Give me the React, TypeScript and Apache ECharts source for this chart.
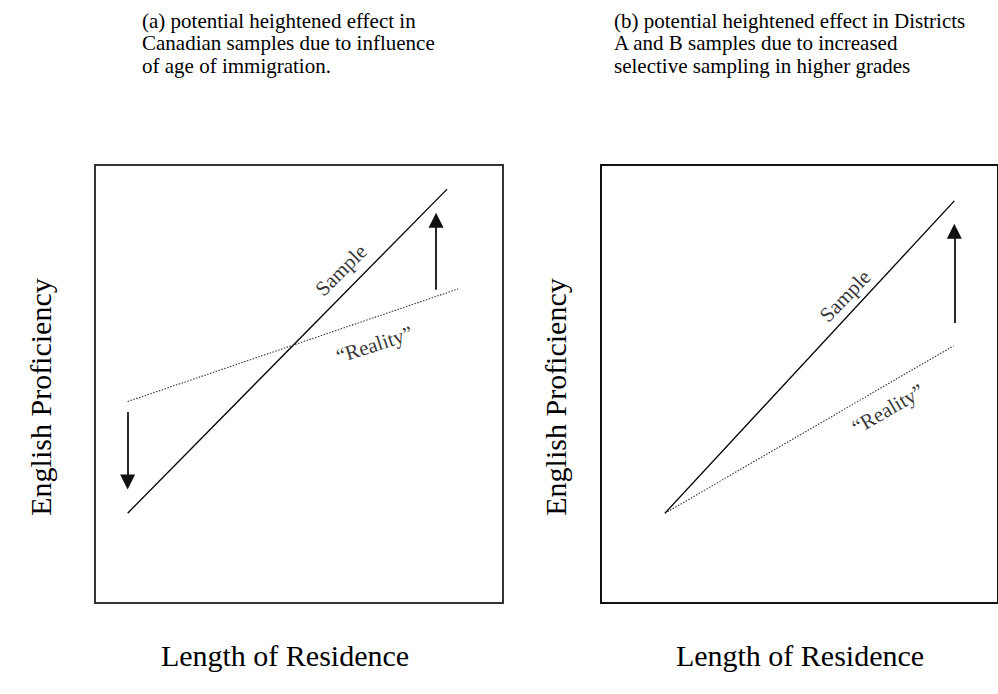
import React, { useEffect, useRef } from "react";
import * as echarts from "echarts";

// Panel titles (one entry per line)
const titleA = ["(a) potential heightened effect in", "Canadian samples due to influence", "of age of immigration."];
const titleB = ["(b) potential heightened effect in Districts", "A and B samples due to increased", "selective sampling in higher grades"];
const xTitle = "Length of Residence";
const yTitle = "English Proficiency";

// Panel (a) data (axis units 0-100)
const aSample = [[8.0, 20.5], [86.3, 94.5]];
const aReality = [[8.0, 46.0], [89.0, 71.7]];
const aArrowDown = [[8.0, 43.6], [8.0, 27.6]];
const aArrowUp = [[83.6, 71.5], [83.6, 87.4]];
const aLabels = [
  { text: "Sample", pos: [60.3, 76.0], rotate: 45 },
  { text: "\u201CReality\u201D", pos: [68.5, 59.0], rotate: 18 },
];

// Panel (b) data
const bSample = [[16.1, 20.5], [89.0, 91.8]];
const bReality = [[16.1, 20.5], [88.8, 58.7]];
const bArrowUp = [[89.0, 63.9], [89.0, 84.9]];
const bLabels = [
  { text: "Sample", pos: [61.5, 70.1], rotate: 46 },
  { text: "\u201CReality\u201D", pos: [72.3, 44.3], rotate: 30 },
];

const FONT = "Liberation Serif";

export default function App() {
  const ref = useRef<HTMLDivElement>(null);
  useEffect(() => {
    document.body.style.margin = "0";
    const chart = echarts.init(ref.current!, undefined, { renderer: "svg" });
    const gridTop = 165;
    const gridH = 438;
    const mkAxis = (i: number) => ({
      type: "value", gridIndex: i, min: 0, max: 100, show: false,
    });
    const line = (i: number, data: number[][], dotted: boolean) => ({
      type: "line", xAxisIndex: i, yAxisIndex: i, data, symbol: "none", silent: true,
      lineStyle: dotted ? { color: "#333", width: 1.1, type: [1.5, 1.5] } : { color: "#000", width: 1.3 },
    });
    const arrow = (i: number, d: number[][]) => ({
      type: "lines", coordinateSystem: "cartesian2d", xAxisIndex: i, yAxisIndex: i, silent: true,
      symbol: ["none", "triangle"], symbolSize: 15,
      lineStyle: { color: "#111", width: 1.8, opacity: 1 },
      data: [{ coords: d }],
    });
    const labels = (i: number, ls: { text: string; pos: number[]; rotate: number }[]) => ({
      type: "scatter", xAxisIndex: i, yAxisIndex: i, symbolSize: 0, silent: true,
      data: ls.map((l) => ({
        value: l.pos,
        label: { show: true, position: "inside", formatter: l.text, rotate: l.rotate, fontFamily: FONT, fontSize: 21, color: "#000" },
      })),
    });
    const titleLines = (lines: string[], x: number) =>
      lines.map((t, k) => ({
        type: "text", x, y: 20.5 + k * 22.5, silent: true,
        style: { text: t, fontFamily: FONT, fontSize: 21, fill: "#000", align: "left", verticalAlign: "middle" },
      }));
    chart.setOption({
      animation: false,
      backgroundColor: "#fff",
      grid: [
        { left: 95, top: gridTop, width: 408, height: gridH, show: true, borderColor: "#333", borderWidth: 2, backgroundColor: "transparent" },
        { left: 601, top: gridTop, width: 408, height: gridH, show: true, borderColor: "#111", borderWidth: 2, backgroundColor: "transparent" },
      ],
      xAxis: [mkAxis(0), mkAxis(1)],
      yAxis: [mkAxis(0), mkAxis(1)],
      graphic: [
        ...titleLines(titleA, 142),
        ...titleLines(titleB, 614),
        { type: "text", x: 285, y: 655, silent: true, style: { text: xTitle, fontFamily: FONT, fontSize: 30, fill: "#000", align: "center", verticalAlign: "middle" } },
        { type: "text", x: 800, y: 655, silent: true, style: { text: xTitle, fontFamily: FONT, fontSize: 30, fill: "#000", align: "center", verticalAlign: "middle" } },
        { type: "text", x: 40, y: 397, rotation: Math.PI / 2, silent: true, style: { text: yTitle, fontFamily: FONT, fontSize: 30, fill: "#000", align: "center", verticalAlign: "middle" } },
        { type: "text", x: 555, y: 397, rotation: Math.PI / 2, silent: true, style: { text: yTitle, fontFamily: FONT, fontSize: 30, fill: "#000", align: "center", verticalAlign: "middle" } },
      ],
      series: [
        line(0, aSample, false),
        line(0, aReality, true),
        arrow(0, aArrowDown),
        arrow(0, aArrowUp),
        labels(0, aLabels),
        line(1, bSample, false),
        line(1, bReality, true),
        arrow(1, bArrowUp),
        labels(1, bLabels),
      ],
    });
    return () => chart.dispose();
  }, []);
  return <div ref={ref} style={{ position: "fixed", left: 0, top: 0, width: 998, height: 694 }} />;
}
